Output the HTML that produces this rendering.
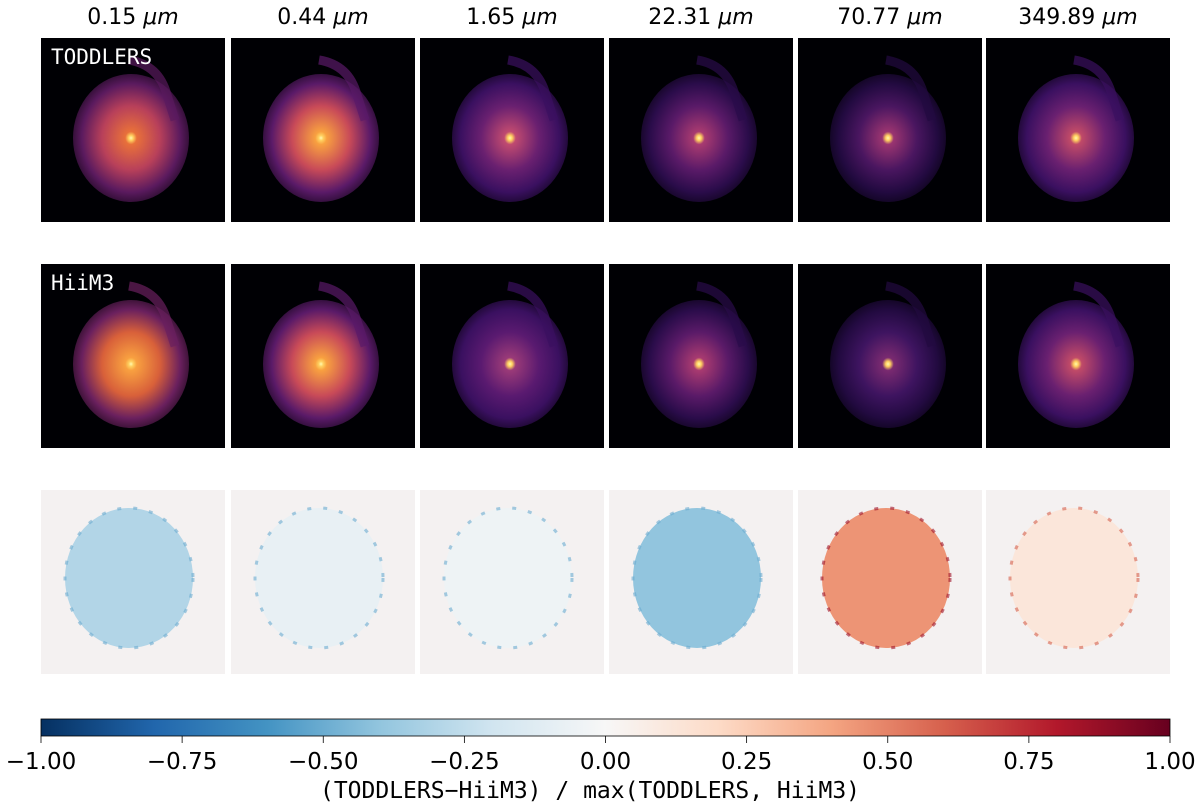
<!DOCTYPE html>
<html><head><meta charset="utf-8"><style>
html,body{margin:0;padding:0;background:#fff;width:1200px;height:809px;overflow:hidden}
</style></head><body>
<svg id="fig" width="1200" height="809" xmlns="http://www.w3.org/2000/svg" font-family="DejaVu Sans, Liberation Sans, sans-serif">
<defs>
<linearGradient id="cbgrad" x1="0" x2="1" y1="0" y2="0">
<stop offset="0" stop-color="#053061"/><stop offset="0.1" stop-color="#2166ac"/><stop offset="0.2" stop-color="#4393c3"/><stop offset="0.3" stop-color="#92c5de"/><stop offset="0.4" stop-color="#d1e5f0"/><stop offset="0.5" stop-color="#f7f7f7"/><stop offset="0.6" stop-color="#fddbc7"/><stop offset="0.7" stop-color="#f4a582"/><stop offset="0.8" stop-color="#d6604d"/><stop offset="0.9" stop-color="#b2182b"/><stop offset="1" stop-color="#67001f"/>
</linearGradient>
</defs>
</svg>
<script>
const wavelengths = ["0.15","0.44","1.65","22.31","70.77","349.89"];
const rowLabels = ["TODDLERS","HiiM3",""];
// per-panel galaxy tone: [inner, mid, outer]
const toddlersTones = [["#e8703a","#b8405a","#5a1a5e"],["#f8a040","#c84a58","#5a1a68"],["#c04a70","#6a2070","#3a1060"],["#a83a70","#5a1a68","#2a0c4a"],["#9a3470","#4a1660","#220a40"],["#c04a68","#6a2070","#3a1060"]];
const hiimTones = [["#f8a040","#d8603a","#6a205e"],["#f8a040","#c84a58","#5a1a68"],["#9a3a78","#5a1a70","#3a1060"],["#a83a70","#5a1a68","#2a0c4a"],["#7a2a70","#3e1460","#220a40"],["#c04a68","#6a2070","#3a1060"]];
const diffValues = [-0.3,-0.08,-0.05,-0.4,0.45,0.12];
const cbTicks = [-1.00,-0.75,-0.50,-0.25,0.00,0.25,0.50,0.75,1.00];

const svg=document.getElementById('fig');
const NS="http://www.w3.org/2000/svg";
function mk(t,a,p){const e=document.createElementNS(NS,t);for(const k in a)e.setAttribute(k,a[k]);(p||svg).appendChild(e);return e;}
const colX=[41,231,420,609,798,986], PW=184, rowY=[38,264,490];
const MONO='DejaVu Sans Mono, Liberation Mono, monospace';
function rdbu(v){const stops=["#053061","#2166ac","#4393c3","#92c5de","#d1e5f0","#f7f7f7","#fddbc7","#f4a582","#d6604d","#b2182b","#67001f"];
 const t=(v+1)/2*10;const i=Math.min(9,Math.floor(t));const f=t-i;
 const a=stops[i],b=stops[i+1];const c=j=>Math.round(parseInt(a.substr(j,2),16)*(1-f)+parseInt(b.substr(j,2),16)*f);
 return `rgb(${c(1)},${c(3)},${c(5)})`;}
const defs=svg.querySelector('defs');
wavelengths.forEach((w,c)=>{
 const t=mk('text',{x:colX[c]+PW/2,y:24,'text-anchor':'middle','font-size':22,fill:'#000'});
 
 
 t.innerHTML=w+' <tspan font-style="italic">μm</tspan>';
 [toddlersTones,hiimTones].forEach((tones,r)=>{
  const g=mk('radialGradient',{id:'g'+r+c,cx:'0.5',cy:'0.5',r:'0.5'},defs);
  const tn=tones[c];
  [[0,'#fff8b0',1],[0.04,'#ffd060',1],[0.1,tn[0],1],[0.5,tn[1],1],[0.85,tn[2],1],[1,tn[2],0.6]].forEach(s=>mk('stop',{offset:s[0],'stop-color':s[1],'stop-opacity':s[2]},g));
  const x=colX[c],y=rowY[r];
  const bg=mk('rect',{x:x,y:y,width:PW,height:184,fill:'#000004'});
  
  
  mk('ellipse',{cx:x+90,cy:y+100,rx:58,ry:64,fill:'url(#g'+r+c+')'});
  mk('path',{d:`M${x+88},${y+22} q30,5 38,35 l8,25`,stroke:tn[2],'stroke-width':9,fill:'none',opacity:0.7});
 });
 const dx=colX[c],dy=rowY[2];
 const db=mk('rect',{x:dx,y:dy,width:PW,height:184,fill:'#f4f1f1'});
 
 
 const col=rdbu(diffValues[c]);
 mk('ellipse',{cx:dx+88,cy:dy+88,rx:64,ry:70,fill:col});
 mk('ellipse',{cx:dx+88,cy:dy+88,rx:64,ry:70,fill:'none',stroke:rdbu(diffValues[c]>0.3?0.85:(diffValues[c]>0?0.6:-0.5)),'stroke-width':3,'stroke-dasharray':'4 12',opacity:0.6});
});
rowLabels.forEach((l,r)=>{ if(!l)return;
 const t=mk('text',{x:51,y:rowY[r]+26,'font-size':21,fill:'#fff','font-family':MONO});
 
 
 t.textContent=l;});
const cbX0=41,cbX1=1170;
const cb=mk('rect',{x:cbX0,y:719,width:cbX1-cbX0,height:17,fill:'url(#cbgrad)',stroke:'#000','stroke-width':0.8});


const xs=v=>cbX0+(v+1)/2*(cbX1-cbX0);
cbTicks.forEach(v=>{
 mk('line',{x1:xs(v),x2:xs(v),y1:736,y2:743,stroke:'#000','stroke-width':0.8});
 const t=mk('text',{x:xs(v),y:769,'text-anchor':'middle','font-size':23});
 
 
 t.textContent=(v<0?'\u2212':'')+Math.abs(v).toFixed(2);});
const lab=mk('text',{x:590,y:798,'text-anchor':'middle','font-size':23,'font-family':MONO});


lab.textContent='(TODDLERS\u2212HiiM3) / max(TODDLERS, HiiM3)';
</script>
</body></html>
